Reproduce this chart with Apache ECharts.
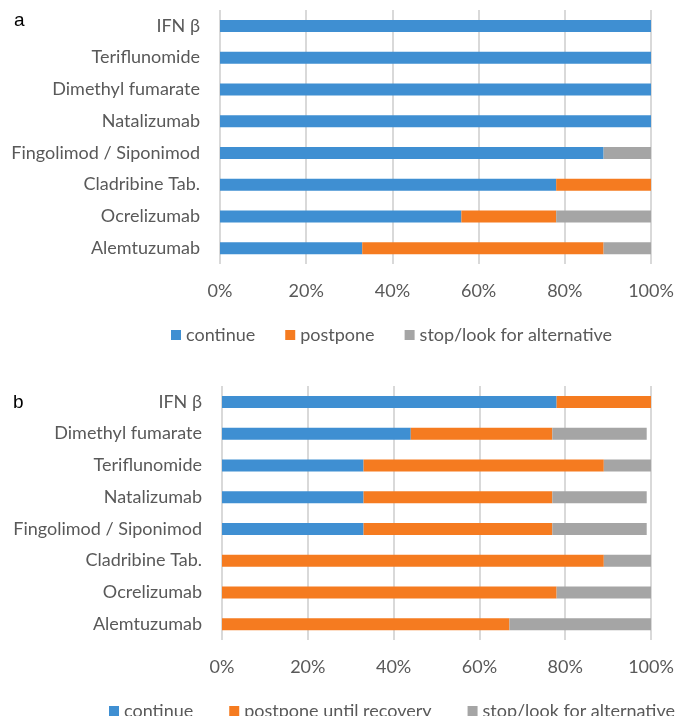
<!DOCTYPE html>
<html>
<head>
<meta charset="utf-8">
<script src="https://cdn.jsdelivr.net/npm/echarts@6/dist/echarts.min.js"></script>
<style>
html,body{margin:0;padding:0;background:#fff;}
#chart{width:677px;height:716px;}
</style>
</head>
<body>
<div id="chart"></div>
<script>
// Panel a
const catsA = ['IFN β','Teriflunomide','Dimethyl fumarate','Natalizumab','Fingolimod / Siponimod','Cladribine Tab.','Ocrelizumab','Alemtuzumab'];
const continueA = [100,100,100,100,89,78,56,33];
const postponeA = [0,0,0,0,0,22,22,56];
const stopA = [0,0,0,0,11,0,22,11];
const legendA = ['continue','postpone','stop/look for alternative'];

// Panel b
const catsB = ['IFN β','Dimethyl fumarate','Teriflunomide','Natalizumab','Fingolimod / Siponimod','Cladribine Tab.','Ocrelizumab','Alemtuzumab'];
const continueB = [78,44,33,33,33,0,0,0];
const postponeB = [22,33,56,44,44,89,78,67];
const stopB = [0,22,11,22,22,11,22,33];
const legendB = ['continue','postpone until recovery','stop/look for alternative'];

const xTicks = [0,20,40,60,80,100];

const FONT = 'Lato';
const FS = 18;
const TXT = '#595959';
const GRID_LINE = '#D9D9D9';
const COLORS = ['#3F8FD2','#F57B20','#A5A5A5'];

const chart = echarts.init(document.getElementById('chart'));

function xAxis(gi){
  return {
    gridIndex: gi, type:'value', min: xTicks[0], max: xTicks[xTicks.length-1], interval: xTicks[1]-xTicks[0],
    axisLine:{show:false}, axisTick:{show:false},
    splitLine:{show:true, lineStyle:{color:GRID_LINE, width:2}},
    axisLabel:{formatter:'{value}%', color:TXT, fontFamily:FONT, fontSize:FS, margin:18}
  };
}
function yAxis(gi, cats){
  return {
    gridIndex: gi, type:'category', data: cats, inverse:true,
    axisLine:{show:false}, axisTick:{show:false},
    axisLabel:{color:TXT, fontFamily:FONT, fontSize:FS, margin:20}
  };
}
function bar(name, data, gi, ci){
  return {
    name, type:'bar', stack:'s'+gi, xAxisIndex:gi, yAxisIndex:gi, data,
    barWidth:12, itemStyle:{color:COLORS[ci]}, emphasis:{disabled:true}, animation:false
  };
}

chart.setOption({
  animation:false,
  color: COLORS,
  title:[
    {text:'a', left:9, top:6, textStyle:{fontFamily:'Liberation Sans', fontSize:19, fontWeight:'normal', color:'#000'}},
    {text:'b', left:8, top:388, textStyle:{fontFamily:'Liberation Sans', fontSize:19, fontWeight:'normal', color:'#000'}}
  ],
  grid:[
    {left:220, right:26, top:10, height:254, containLabel:false},
    {left:222, right:26, top:386, height:254, containLabel:false}
  ],
  xAxis:[xAxis(0), xAxis(1)],
  yAxis:[yAxis(0, catsA), yAxis(1, catsB)],
  legend:[
    {data:legendA, left:166, top:321, width:600, itemWidth:10, itemHeight:10, itemGap:30, icon:'rect',
     textStyle:{color:TXT, fontFamily:FONT, fontSize:FS}, selectedMode:false},
    {data:legendB, left:104, top:697, width:800, itemWidth:10, itemHeight:10, itemGap:36, icon:'rect',
     textStyle:{color:TXT, fontFamily:FONT, fontSize:FS}, selectedMode:false}
  ],
  series:[
    bar(legendA[0], continueA, 0, 0),
    bar(legendA[1], postponeA, 0, 1),
    bar(legendA[2], stopA, 0, 2),
    bar(legendB[0], continueB, 1, 0),
    bar(legendB[1], postponeB, 1, 1),
    bar(legendB[2], stopB, 1, 2)
  ]
});
</script>
</body>
</html>
